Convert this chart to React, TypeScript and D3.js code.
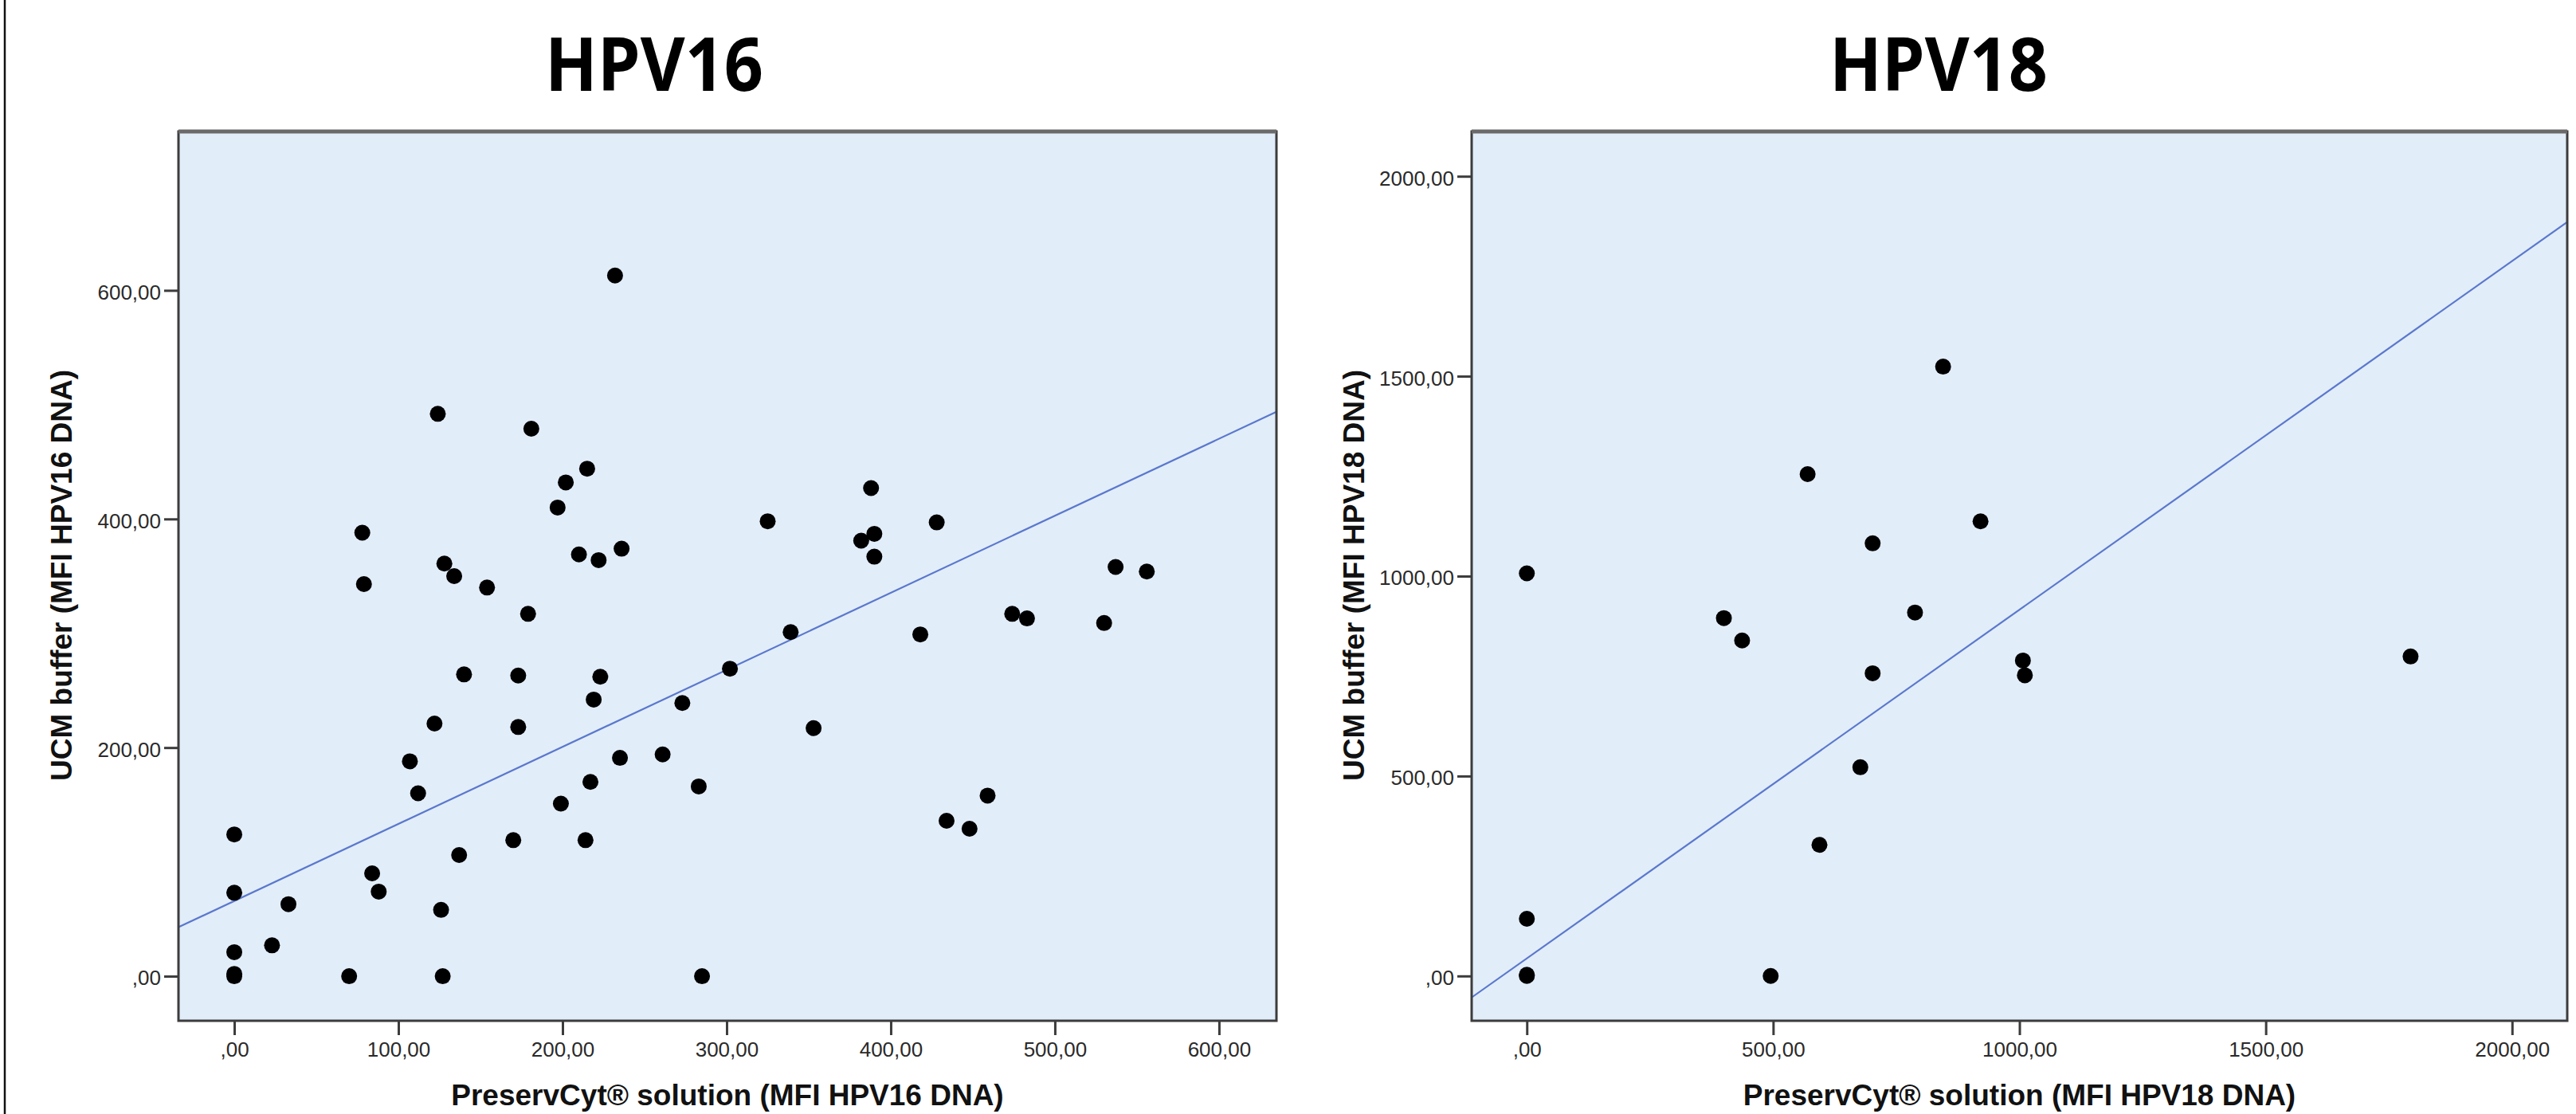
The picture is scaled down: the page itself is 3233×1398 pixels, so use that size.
import React, { useEffect, useRef } from 'react';
import * as d3 from 'd3';

// HPV16 panel: PreservCyt solution (x) vs UCM buffer (y), MFI
const hpv16X = [232, 124, 181, 215, 202, 197, 78, 79, 128, 134, 154, 179, 210, 222, 236, 140, 173, 223, 219, 122, 173, 302, 273, 261, 235, 217, 283, 199, 107, 112, 170, 214, 137, 0, 0, 33, 84, 88, 126, 0, 23, 0, 0, 70, 127, 285, 339, 353, 325, 388, 382, 390, 390, 428, 418, 537, 556, 474, 483, 530, 459, 434, 448];
const hpv16Y = [613, 492, 479, 444, 432, 410, 388, 343, 361, 350, 340, 317, 369, 364, 374, 264, 263, 262, 242, 221, 218, 269, 239, 194, 191, 170, 166, 151, 188, 160, 119, 119, 106, 124, 73, 63, 90, 74, 58, 21, 27, 0, 2, 0, 0, 0, 301, 217, 398, 427, 381, 387, 367, 397, 299, 358, 354, 317, 313, 309, 158, 136, 129];

// HPV18 panel
const hpv18X = [0, 0, 495, 0, 594, 677, 0, 400, 437, 702, 788, 702, 921, 570, 845, 1007, 1011, 1794];
const hpv18Y = [0, 3, 0, 143, 328, 522, 1007, 895, 839, 757, 909, 1082, 1137, 1255, 1524, 789, 752, 799];

const hpv16XTicks = [0, 100, 200, 300, 400, 500, 600];
const hpv16YTicks = [0, 200, 400, 600];
const hpv18XTicks = [0, 500, 1000, 1500, 2000];
const hpv18YTicks = [0, 500, 1000, 1500, 2000];

// fit lines: [intercept, slope]
const hpv16Fit = [65.8, 0.674];
const hpv18Fit = [44, 0.872];

const hpv16XDomain = [-34, 635];
const hpv16YDomain = [-39, 739];
const hpv18XDomain = [-112, 2112];
const hpv18YDomain = [-112, 2112];

const W = 3233;
const H = 1398;

const panels = [
  {
    id: 'hpv16',
    title: 'HPV16',
    titleX: 821,
    left: 224,
    width: 1378,
    xs: hpv16X,
    ys: hpv16Y,
    xTicks: hpv16XTicks,
    yTicks: hpv16YTicks,
    fit: hpv16Fit,
    xDomain: hpv16XDomain,
    yDomain: hpv16YDomain,
    xLabel: 'PreservCyt® solution (MFI HPV16 DNA)',
    yLabel: 'UCM buffer (MFI HPV16 DNA)',
    yLabelX: 90,
  },
  {
    id: 'hpv18',
    title: 'HPV18',
    titleX: 2433,
    left: 1847,
    width: 1375,
    xs: hpv18X,
    ys: hpv18Y,
    xTicks: hpv18XTicks,
    yTicks: hpv18YTicks,
    fit: hpv18Fit,
    xDomain: hpv18XDomain,
    yDomain: hpv18YDomain,
    xLabel: 'PreservCyt® solution (MFI HPV18 DNA)',
    yLabel: 'UCM buffer (MFI HPV18 DNA)',
    yLabelX: 1712,
  },
];

const top = 165;
const plotH = 1116;

// SPSS style labels: 0 -> ",00", 200 -> "200,00"
const fmt = (v: number) => (v === 0 ? ',00' : `${v},00`);

const App = () => {
  const ref = useRef<SVGSVGElement>(null);

  useEffect(() => {
    const svg = d3.select(ref.current);
    svg.selectAll('*').remove();

    svg.append('rect').attr('width', W).attr('height', H).attr('fill', '#fff');

    // frame line on the far left
    svg
      .append('line')
      .attr('x1', 6)
      .attr('x2', 6)
      .attr('y1', 0)
      .attr('y2', H)
      .attr('stroke', '#111')
      .attr('stroke-width', 2.5);

    panels.forEach((p) => {
      const g = svg.append('g');
      const bottom = top + plotH;
      const x = d3.scaleLinear().domain(p.xDomain).range([p.left, p.left + p.width]);
      const y = d3.scaleLinear().domain(p.yDomain).range([bottom, top]);

      g.append('rect')
        .attr('x', p.left)
        .attr('y', top)
        .attr('width', p.width)
        .attr('height', plotH)
        .attr('fill', '#e2edfa');

      g.append('clipPath')
        .attr('id', `clip-${p.id}`)
        .append('rect')
        .attr('x', p.left)
        .attr('y', top)
        .attr('width', p.width)
        .attr('height', plotH);

      // fit line
      const [a, b] = p.fit;
      const line = d3
        .line<number>()
        .x((d) => x(d))
        .y((d) => y(a + b * d));
      g.append('path')
        .attr('d', line(p.xDomain))
        .attr('clip-path', `url(#clip-${p.id})`)
        .attr('fill', 'none')
        .attr('stroke', '#5a78cc')
        .attr('stroke-width', 2.2);

      // points
      g.selectAll('circle')
        .data(p.xs.map((v, i) => [v, p.ys[i]]))
        .enter()
        .append('circle')
        .attr('cx', (d) => x(d[0]))
        .attr('cy', (d) => y(d[1]))
        .attr('r', 10)
        .attr('fill', '#000');

      // plot frame
      g.append('rect')
        .attr('x', p.left)
        .attr('y', top)
        .attr('width', p.width)
        .attr('height', plotH)
        .attr('fill', 'none')
        .attr('stroke', '#3c3c3c')
        .attr('stroke-width', 3);
      g.append('line')
        .attr('x1', p.left)
        .attr('x2', p.left + p.width)
        .attr('y1', top)
        .attr('y2', top)
        .attr('stroke', '#6a6a6a')
        .attr('stroke-width', 5);

      // axes
      const xAxis = d3
        .axisBottom(x)
        .tickValues(p.xTicks)
        .tickSize(17)
        .tickPadding(9)
        .tickFormat((d) => fmt(d as number));
      const yAxis = d3
        .axisLeft(y)
        .tickValues(p.yTicks)
        .tickSize(17)
        .tickPadding(4)
        .tickFormat((d) => fmt(d as number));

      const gx = g.append('g').attr('transform', `translate(0,${bottom + 1})`).call(xAxis);
      const gy = g.append('g').attr('transform', `translate(${p.left - 1},0)`).call(yAxis);
      [gx, gy].forEach((ax) => {
        ax.select('.domain').remove();
        ax.selectAll('.tick line').attr('stroke', '#3c3c3c').attr('stroke-width', 3);
        ax.selectAll('.tick text')
          .attr('fill', '#2a2a2a')
          .attr('font-size', 26)
          .attr('font-family', '"Liberation Sans", Arial, sans-serif');
      });
      gy.selectAll('.tick text').attr('dy', '0.42em');

      // titles and axis labels
      g.append('text')
        .attr('x', p.titleX)
        .attr('y', 114)
        .attr('text-anchor', 'middle')
        .attr('font-family', '"Open Sans", sans-serif')
        .attr('font-weight', 700)
        .attr('font-size', 94)
        .attr('textLength', 274)
        .attr('lengthAdjust', 'spacingAndGlyphs')
        .text(p.title);

      g.append('text')
        .attr('x', p.left + p.width / 2)
        .attr('y', 1387)
        .attr('text-anchor', 'middle')
        .attr('font-family', '"Liberation Sans", Arial, sans-serif')
        .attr('font-weight', 700)
        .attr('font-size', 37)
        .attr('fill', '#111')
        .text(p.xLabel);

      g.append('text')
        .attr('transform', `translate(${p.yLabelX},722) rotate(-90)`)
        .attr('text-anchor', 'middle')
        .attr('font-family', '"Liberation Sans", Arial, sans-serif')
        .attr('font-weight', 700)
        .attr('font-size', 37)
        .attr('fill', '#111')
        .text(p.yLabel);
    });
  }, []);

  return (
    <svg
      ref={ref}
      width={W}
      height={H}
      style={{ position: 'absolute', left: 0, top: 0, display: 'block' }}
    />
  );
};

export default App;
